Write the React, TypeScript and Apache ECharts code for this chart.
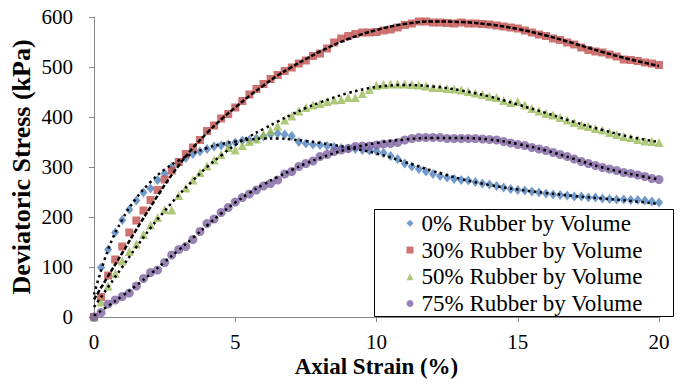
import React, { useEffect, useRef } from "react";
import * as echarts from "echarts";

const strain = [
  0, 0.25, 0.5, 0.75, 1, 1.25, 1.5, 1.75, 2, 2.25, 2.5, 2.75, 3, 3.25, 3.5, 3.75,
  4, 4.25, 4.5, 4.75, 5, 5.25, 5.5, 5.75, 6, 6.25, 6.5, 6.75, 7, 7.25, 7.5, 7.75,
  8, 8.25, 8.5, 8.75, 9, 9.25, 9.5, 9.75, 10, 10.25, 10.5, 10.75, 11, 11.25, 11.5, 11.75,
  12, 12.25, 12.5, 12.75, 13, 13.25, 13.5, 13.75, 14, 14.25, 14.5, 14.75, 15, 15.25, 15.5, 15.75,
  16, 16.25, 16.5, 16.75, 17, 17.25, 17.5, 17.75, 18, 18.25, 18.5, 18.75, 19, 19.25, 19.5, 19.75, 20,
];

const stress0 = [
  0, 99, 135, 169, 194, 215, 233, 249, 257, 274, 287, 300, 309, 318, 326, 331,
  336, 341, 343, 345, 349, 353, 354, 357, 361, 365, 367, 365, 362, 350, 347, 345,
  344, 342, 340, 338, 337, 336, 334, 333, 332, 328, 322, 316, 307, 301, 296, 291,
  286, 282, 279, 276, 274, 273, 270, 267, 265, 262, 259, 256, 254, 253, 251, 249,
  247, 245, 244, 243, 241, 241, 239, 239, 237, 236, 235, 235, 234, 234, 233, 231, 229,
];

const stress30 = [
  0, 40, 83, 115, 141, 169, 193, 213, 234, 254, 275, 293, 310, 326, 339, 354,
  372, 383, 397, 406, 419, 432, 445, 456, 466, 476, 484, 492, 499, 507, 513, 522,
  527, 537, 549, 557, 562, 566, 569, 569, 570, 573, 575, 579, 584, 587, 591, 591,
  589, 589, 588, 587, 589, 587, 587, 586, 585, 583, 581, 579, 577, 573, 569, 565,
  562, 557, 554, 549, 545, 539, 534, 531, 529, 525, 521, 515, 514, 512, 509, 507, 504,
];

const stress50 = [
  0, 30, 62, 87, 112, 131, 146, 165, 184, 199, 215, 214, 243, 258, 274, 289,
  302, 314, 325, 339, 334, 343, 351, 356, 365, 373, 382, 394, 402, 412, 419, 424,
  427, 431, 434, 435, 439, 439, 447, 455, 463, 465, 466, 466, 466, 465, 464, 462,
  459, 459, 457, 456, 454, 451, 448, 445, 441, 439, 433, 429, 431, 424, 417, 412,
  407, 404, 399, 394, 389, 384, 381, 377, 374, 369, 365, 361, 359, 355, 352, 351, 349,
];

const stress75 = [
  0, 9, 26, 34, 41, 48, 62, 77, 89, 94, 109, 124, 135, 141, 155, 171,
  187, 196, 209, 219, 230, 239, 246, 254, 262, 267, 274, 286, 291, 301, 307, 312,
  321, 325, 331, 334, 337, 341, 342, 342, 344, 346, 347, 349, 354, 357, 359, 359,
  359, 359, 357, 357, 357, 357, 357, 356, 355, 354, 351, 348, 345, 343, 339, 336,
  333, 329, 325, 321, 316, 311, 307, 303, 299, 296, 293, 289, 287, 284, 281, 277, 275,
];

const trendStrain = [0, 0.5, 1, 1.5, 2, 2.5, 3, 3.5, 4, 4.5, 5, 5.5, 6, 6.5, 7, 7.5, 8, 9, 10, 11, 12, 13, 14, 15, 16, 17, 18, 19, 20];
const trend0 = [45, 135, 195, 238, 270, 295, 313, 327, 338, 346, 351, 355, 357, 357, 355, 352, 348, 339, 327, 310, 292, 276, 264, 255, 248, 242, 237, 232, 226];
const trend30 = [35, 82, 128, 175, 220, 264, 303, 338, 368, 395, 419, 442, 463, 483, 500, 516, 531, 556, 574, 586, 591, 590, 585, 576, 563, 547, 530, 515, 502];
const trend50 = [20, 60, 100, 140, 178, 212, 244, 273, 300, 323, 344, 361, 376, 391, 405, 418, 429, 448, 460, 464, 461, 453, 441, 425, 408, 390, 374, 360, 350];
const trend75 = [3, 22, 42, 63, 86, 110, 134, 158, 183, 207, 229, 248, 265, 280, 294, 307, 318, 336, 348, 355, 358, 358, 355, 346, 333, 316, 299, 286, 275];

const seriesNames = [
  "0% Rubber by Volume",
  "30% Rubber by Volume",
  "50% Rubber by Volume",
  "75% Rubber by Volume",
];

const xTicks = { min: 0, max: 20, interval: 5 };
const yTicks = { min: 0, max: 600, interval: 100 };

export default function App() {
  const ref = useRef<HTMLDivElement>(null);
  useEffect(() => {
    const chart = echarts.init(ref.current!, null, { renderer: "svg" });
    const font = "Liberation Serif";
    const pts = (xs: number[], ys: number[]) => xs.map((x, i) => [x, ys[i]]);
    const scatterDefs = [
      { data: stress0, color: "#4F81BD", symbol: "diamond", size: [8, 10] },
      { data: stress30, color: "#C0504D", symbol: "rect", size: 8 },
      { data: stress50, color: "#9BBB59", symbol: "triangle", size: 9 },
      { data: stress75, color: "#8064A2", symbol: "circle", size: 9 },
    ];
    const trendDefs = [
      { data: trend0, dash: [2.5, 3.5] },
      { data: trend30, dash: [4.5, 2] },
      { data: trend50, dash: [2.5, 3.5] },
      { data: trend75, dash: [2.5, 3.5] },
    ];
    const axisLineStyle = { color: "#868686", width: 1 };
    chart.setOption({
      animation: false,
      textStyle: { fontFamily: font },
      grid: { left: 93, right: 26, top: 17, bottom: 67, containLabel: false },
      xAxis: {
        type: "value",
        ...xTicks,
        axisLine: { show: true, onZero: false, lineStyle: axisLineStyle },
        axisTick: { show: true, length: 5, lineStyle: axisLineStyle },
        splitLine: { show: false },
        axisLabel: { fontFamily: font, fontSize: 21, color: "#000", margin: 14 },
        name: "Axial Strain (%)",
        nameLocation: "middle",
        nameGap: 38,
        nameMoveOverlap: false,
        nameTextStyle: { fontFamily: font, fontSize: 23, fontWeight: "bold", color: "#000" },
      },
      yAxis: {
        type: "value",
        ...yTicks,
        axisLine: { show: true, lineStyle: axisLineStyle },
        axisTick: { show: true, length: 5, lineStyle: axisLineStyle },
        splitLine: { show: false },
        axisLabel: { fontFamily: font, fontSize: 21, color: "#000", margin: 21 },
        name: "Deviatoric Stress (kPa)",
        nameLocation: "middle",
        nameGap: 60,
        nameRotate: 90,
        nameMoveOverlap: false,
        nameTextStyle: { fontFamily: font, fontSize: 26, fontWeight: "bold", color: "#000" },
      },
      legend: {
        data: seriesNames,
        orient: "vertical",
        left: 406.5,
        top: 210,
        padding: 0,
        itemWidth: 7,
        itemHeight: 7,
        itemGap: 0,
        textStyle: {
          fontFamily: font,
          fontSize: 23,
          color: "#000",
          lineHeight: 26.7,
          padding: [0, 0, 0, 3],
        },
      },
      graphic: [
        {
          type: "rect",
          z: 0,
          shape: { x: 374.5, y: 209.5, width: 299, height: 107 },
          style: { fill: "#fff", stroke: "#000", lineWidth: 1 },
        },
      ],
      series: [
        ...scatterDefs.map((d, i) => ({
          type: "scatter",
          name: seriesNames[i],
          data: pts(strain, d.data),
          symbol: d.symbol,
          symbolSize: d.size,
          itemStyle: { color: d.color },
          z: 2,
        })),
        ...trendDefs.map((d, i) => ({
          type: "line",
          name: "trend" + i,
          data: pts(trendStrain, d.data),
          smooth: 0.4,
          showSymbol: false,
          symbol: "none",
          silent: true,
          lineStyle: { color: "#000", width: 2.5, type: d.dash },
          z: 3,
        })),
      ],
    });
    return () => chart.dispose();
  }, []);
  return (
    <div
      ref={ref}
      style={{ position: "absolute", left: 0, top: 0, width: 685, height: 384 }}
    />
  );
}
